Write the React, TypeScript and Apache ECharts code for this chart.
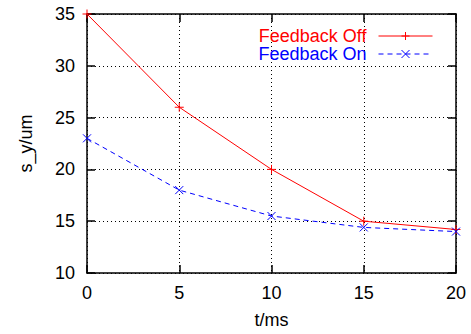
import React, { useEffect, useRef } from "react";
import * as echarts from "echarts";

const tValues = [0, 5, 10, 15, 20];
const feedbackOff = [35, 26, 20, 15, 14.2];
const feedbackOn = [23, 18, 15.5, 14.4, 14.0];
const seriesNames = ["Feedback Off", "Feedback On"];

const FONT = "Liberation Sans, Arial, sans-serif";
const FS = 18;
const PLUS = "path://M0,5L10,5M5,0L5,10";
const CROSS = "path://M0,0L10,10M10,0L0,10";

export default function App() {
  const ref = useRef<HTMLDivElement>(null);
  useEffect(() => {
    if (!ref.current) return;
    const chart = echarts.init(ref.current, null, { renderer: "svg" });
    const gridLine = { show: true, lineStyle: { color: "#000", type: [1, 3] as any, width: 1 } };
    const axisLine = { show: true, onZero: false, lineStyle: { color: "#000", width: 1.5 } };
    const tick = { show: true, inside: true, length: 8, lineStyle: { color: "#000", width: 1.5 } };
    chart.setOption({
      animation: false,
      backgroundColor: "#fff",
      grid: { left: 87, right: 15, top: 14, bottom: 59, containLabel: false },
      legend: {
        orient: "vertical",
        right: 33,
        top: 22,
        align: "right",
        itemWidth: 54,
        itemHeight: 10,
        itemGap: 0,
        lineStyle: { width: 1 },
        itemStyle: { borderWidth: 1 },
        textStyle: { fontFamily: FONT, fontSize: FS, padding: [0, 7, 0, 0] },
        data: [
          { name: seriesNames[0], textStyle: { color: "#ff0000" } },
          { name: seriesNames[1], textStyle: { color: "#0000ff" } },
        ],
      },
      xAxis: [
        {
          type: "value",
          min: 0,
          max: 20,
          interval: 5,
          name: "t/ms",
          nameLocation: "middle",
          nameGap: 38,
          nameTextStyle: { fontFamily: FONT, fontSize: FS, color: "#000" },
          axisLine,
          axisTick: tick,
          axisLabel: { margin: 11, fontFamily: FONT, fontSize: FS, color: "#000" },
          splitLine: gridLine,
        },
        {
          type: "value",
          min: 0,
          max: 20,
          interval: 5,
          position: "top",
          axisLine,
          axisTick: tick,
          axisLabel: { show: false },
          splitLine: { show: false },
        },
      ],
      yAxis: [
        {
          type: "value",
          min: 10,
          max: 35,
          interval: 5,
          name: "s_y/um",
          nameLocation: "middle",
          nameGap: 52,
          nameTextStyle: { fontFamily: FONT, fontSize: FS, color: "#000" },
          axisLine,
          axisTick: tick,
          axisLabel: { margin: 12, fontFamily: FONT, fontSize: FS, color: "#000" },
          splitLine: gridLine,
        },
        {
          type: "value",
          min: 10,
          max: 35,
          interval: 5,
          position: "right",
          axisLine,
          axisTick: tick,
          axisLabel: { show: false },
          splitLine: { show: false },
        },
      ],
      series: [
        {
          name: seriesNames[0],
          type: "line",
          data: tValues.map((t, i) => [t, feedbackOff[i]]),
          symbol: PLUS,
          symbolSize: 9,
          lineStyle: { color: "#ff0000", width: 1 },
          itemStyle: { color: "none", borderColor: "#ff0000", borderWidth: 1 },
          z: 3,
        },
        {
          name: seriesNames[1],
          type: "line",
          data: tValues.map((t, i) => [t, feedbackOn[i]]),
          symbol: CROSS,
          symbolSize: 8,
          lineStyle: { color: "#0000ff", width: 1, type: [5, 4] as any },
          itemStyle: { color: "none", borderColor: "#0000ff", borderWidth: 1 },
          z: 3,
        },
      ],
    });
    return () => chart.dispose();
  }, []);
  return <div ref={ref} style={{ width: 471, height: 334, position: "absolute", left: 0, top: 0 }} />;
}
